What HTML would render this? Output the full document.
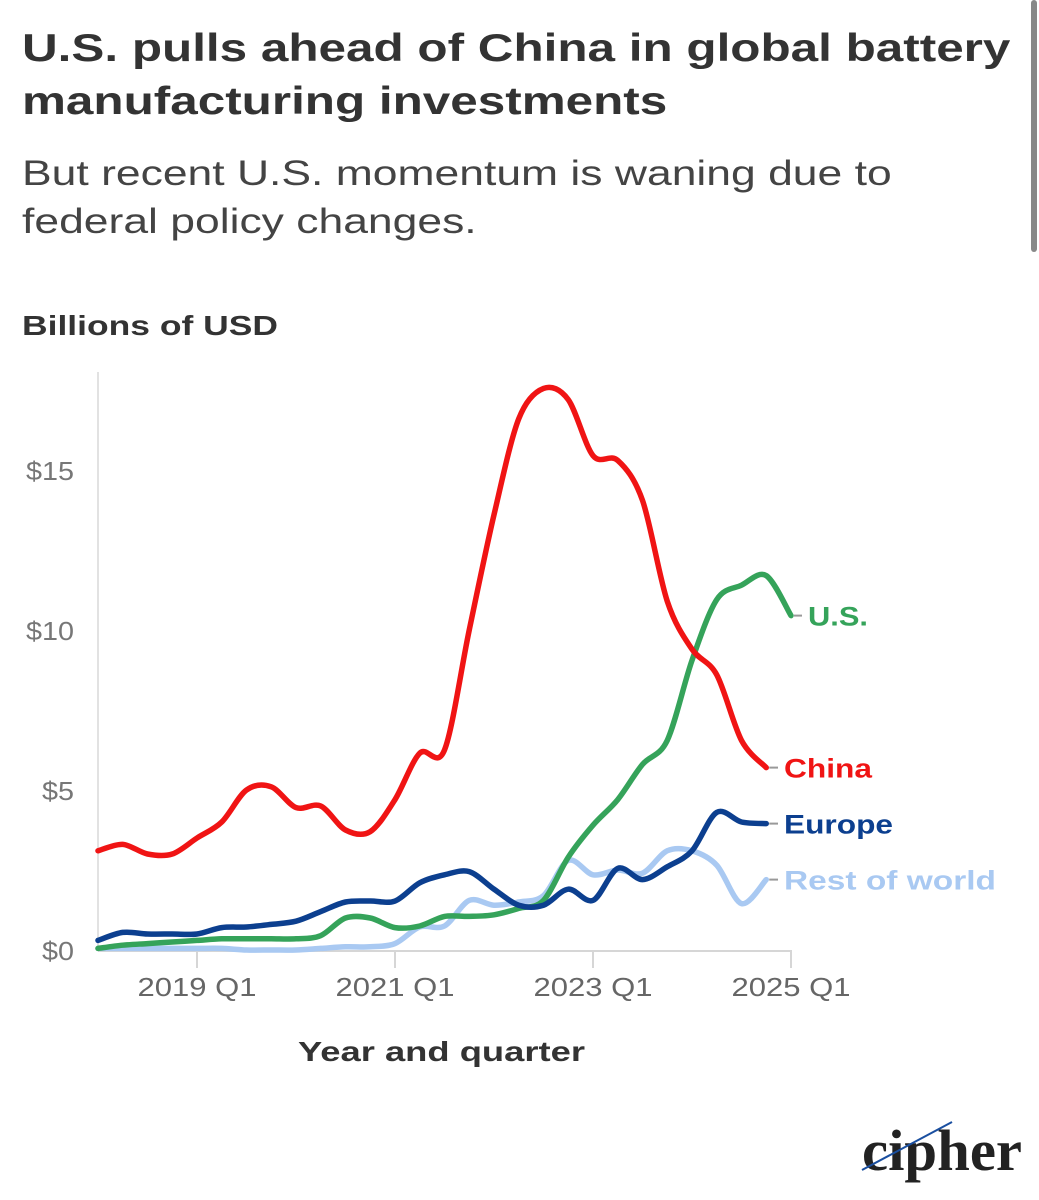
<!DOCTYPE html>
<html><head><meta charset="utf-8"><style>
body{margin:0;background:#fff;width:1039px;height:1200px;overflow:hidden;position:relative;font-family:"Liberation Sans",sans-serif;}
.t{position:absolute;left:22px;top:22px;font-size:39px;font-weight:bold;color:#333;line-height:53px;margin:0;transform:scaleX(1.267);transform-origin:0 0;white-space:nowrap;}
.s{position:absolute;left:22px;top:150px;font-size:35px;color:#444;line-height:48px;margin:0;transform:scaleX(1.27);transform-origin:0 0;white-space:nowrap;}
.scroll{position:absolute;left:1031px;top:0;width:6px;height:252px;background:#888;border-radius:3px;}
</style></head><body>
<h1 class="t">U.S. pulls ahead of China in global battery<br>manufacturing investments</h1>
<p class="s">But recent U.S. momentum is waning due to<br>federal policy changes.</p>
<div class="scroll"></div>
<svg id="chart" width="1039" height="1200" style="position:absolute;left:0;top:0" font-family="Liberation Sans, sans-serif"></svg>
<script>
const quarterStart = 2018; // index 0 = 2018 Q1
const xTickLabels = ["2019 Q1","2021 Q1","2023 Q1","2025 Q1"];
const xTickIndex = [4,12,20,28];
const yTicks = [0,5,10,15];
const china = [3.1,3.3,3.0,3.0,3.5,4.0,5.0,5.1,4.45,4.5,3.75,3.7,4.7,6.15,6.25,10,13.6,16.6,17.55,17.2,15.45,15.3,14.05,10.9,9.4,8.6,6.55,5.7];
const us = [0.05,0.15,0.2,0.25,0.3,0.35,0.35,0.35,0.35,0.45,1.0,1.0,0.7,0.75,1.05,1.05,1.1,1.3,1.55,2.9,3.9,4.7,5.8,6.55,9.05,10.95,11.4,11.7,10.45];
const europe = [0.3,0.55,0.5,0.5,0.5,0.7,0.72,0.8,0.9,1.2,1.5,1.53,1.53,2.1,2.35,2.45,1.9,1.4,1.4,1.9,1.55,2.55,2.2,2.6,3.1,4.3,4.0,3.95];
const rest = [0.05,0.05,0.05,0.05,0.05,0.05,0.0,0.0,0.0,0.05,0.1,0.1,0.2,0.72,0.75,1.55,1.4,1.5,1.7,2.8,2.35,2.5,2.4,3.1,3.1,2.65,1.45,2.2];
const seriesNames = ["Rest of world","U.S.","Europe","China"];

const NS="http://www.w3.org/2000/svg";
const svg=document.getElementById('chart');
const x=i=>98+i*24.75;
const y=v=>950-v*32;
function mk(tag,attrs,parent){const e=document.createElementNS(NS,tag);for(const k in attrs)e.setAttribute(k,attrs[k]);(parent||svg).appendChild(e);return e;}
function txt(str,attrs){const e=mk('text',attrs);e.textContent=str;return e;}

const ya=mk('line',{x1:98,y1:372,x2:98,y2:950,stroke:'#e2e2e2','stroke-width':2});


const xa=mk('line',{x1:98,y1:951,x2:791,y2:951,stroke:'#d6d6d6','stroke-width':2});


yTicks.forEach(v=>{
  const s='$'+v;
  const t=txt(s,{x:74,y:y(v)+10,'text-anchor':'end','font-size':26,fill:'#777',textLength:s.length*16,lengthAdjust:'spacingAndGlyphs'});
  
  
});
xTickLabels.forEach((l,k)=>{
  const xi=x(xTickIndex[k]);
  const tk=mk('line',{x1:xi,y1:950,x2:xi,y2:968,stroke:'#d6d6d6','stroke-width':2});
  
  
  const t=txt(l,{x:xi,y:996,'text-anchor':'middle','font-size':26,fill:'#666',textLength:119,lengthAdjust:'spacingAndGlyphs'});
  
  
});
const yt=txt('Billions of USD',{x:22,y:335,'font-size':28,'font-weight':'bold',fill:'#333',textLength:256,lengthAdjust:'spacingAndGlyphs'});


const xt=txt('Year and quarter',{x:298,y:1061,'font-size':28,'font-weight':'bold',fill:'#333',textLength:287,lengthAdjust:'spacingAndGlyphs'});



function smooth(vals){
  const p=vals.map((v,i)=>[x(i),y(v)]);
  let d='M'+p[0][0]+','+p[0][1];
  for(let i=0;i<p.length-1;i++){
    const p0=p[i-1]||p[i],p1=p[i],p2=p[i+1],p3=p[i+2]||p2;
    const t=0.16;
    const c1=[p1[0]+(p2[0]-p0[0])*t,p1[1]+(p2[1]-p0[1])*t];
    const c2=[p2[0]-(p3[0]-p1[0])*t,p2[1]-(p3[1]-p1[1])*t];
    d+=` C${c1[0]},${c1[1]} ${c2[0]},${c2[1]} ${p2[0]},${p2[1]}`;
  }
  return d;
}
const series=[[rest,'#a9c9f2','rest-of-world-line'],[us,'#35a35a','us-line'],[europe,'#0c3f8f','europe-line'],[china,'#f01414','china-line']];
series.forEach(([vals,col,name])=>{
  const p=mk('path',{d:smooth(vals),fill:'none',stroke:col,'stroke-width':5.5,'stroke-linecap':'round','stroke-linejoin':'round'});
  
  
});
const labels=[[us,'U.S.','#35a35a',808,'us-label',60],[china,'China','#f01414',784,'china-label',88],[europe,'Europe','#0c3f8f',784,'europe-label',109],[rest,'Rest of world','#a9c9f2',784,'rest-of-world-label',212]];
labels.forEach(([vals,lab,col,lx,name,w])=>{
  const i=vals.length-1,yy=y(vals[i]);
  const ld=mk('line',{x1:x(i)+3,y1:yy,x2:lx-6,y2:yy,stroke:'#999','stroke-width':2});
  
  
  const t=txt(lab,{x:lx,y:yy+10,'font-size':27,'font-weight':'bold',fill:col,textLength:w,lengthAdjust:'spacingAndGlyphs'});
  
  
});
const logo=txt('cipher',{x:862,y:1170,'font-size':58,'font-family':'Liberation Serif, serif','font-weight':'bold',fill:'#222',textLength:160,lengthAdjust:'spacingAndGlyphs'});


const sl=mk('line',{x1:862,y1:1170,x2:952,y2:1122,stroke:'#1a4fa0','stroke-width':2});


</script>
</body></html>
